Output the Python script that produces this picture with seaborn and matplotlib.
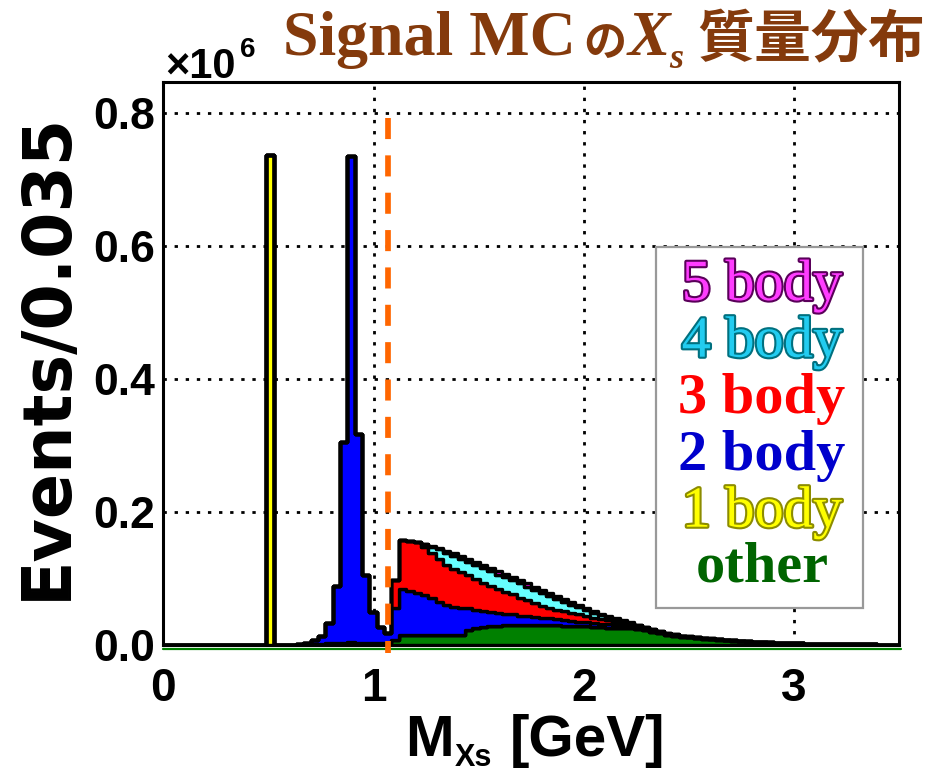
import numpy as np
import pandas as pd
import matplotlib
matplotlib.use("Agg")
import matplotlib.pyplot as plt
import matplotlib.patheffects as pe
import matplotlib.transforms as mtransforms
from matplotlib.patches import Rectangle
from matplotlib.ticker import MultipleLocator, FormatStrFormatter
import seaborn as sns

# 100 mass bins of 0.035 GeV from 0 to 3.5 GeV
n_bins = 100
mass_range = (0.0, 3.5)
bin_edges = np.linspace(mass_range[0], mass_range[1], n_bins + 1)
bin_centers = 0.5 * (bin_edges[:-1] + bin_edges[1:])

# Events per bin, in units of 10^6, for each decay multiplicity
other = [0.0] * 18 + [
    0.0005, 0.001, 0.0015, 0.002, 0.0025, 0.003, 0.0035, 0.0045, 0.0035, 0.003,
    0.003, 0.003, 0.003, 0.0075,
    0.015, 0.015, 0.015, 0.015, 0.015, 0.015, 0.015, 0.015, 0.015,
    0.022, 0.025, 0.027, 0.028, 0.029, 0.030, 0.030, 0.030, 0.030, 0.030,
    0.030, 0.030, 0.030, 0.029, 0.029, 0.028, 0.028, 0.027, 0.027, 0.026,
    0.026, 0.025, 0.025,
    0.024, 0.0225, 0.020, 0.0178, 0.0153, 0.0137, 0.012, 0.0113, 0.0105, 0.0097,
    0.0088, 0.0080, 0.0071, 0.0064, 0.0058, 0.0052, 0.0047, 0.0041, 0.0037, 0.0033,
    0.0029, 0.0026, 0.0023, 0.0020, 0.0017, 0.0016, 0.0014, 0.0012, 0.0011, 0.0010,
    0.0009, 0.0009, 0.0008, 0.0007, 0.0006, 0.0005,
]

one_body = [0.0] * 14 + [0.737] + [0.0] * 85

two_body = [0.0] * 17 + [
    0.0005, 0.001, 0.0025, 0.006, 0.0115, 0.0305, 0.086, 0.3025, 0.7315, 0.3135,
    0.102, 0.046, 0.0245, 0.0146, 0.0475,
    0.069, 0.066, 0.063, 0.060, 0.056, 0.049, 0.045, 0.042, 0.040,
    0.033, 0.028, 0.024, 0.022, 0.019, 0.017, 0.016, 0.014, 0.013, 0.012,
    0.011, 0.010, 0.009, 0.008, 0.007, 0.007, 0.006, 0.006, 0.005, 0.005,
    0.004, 0.004, 0.003,
    0.003, 0.0025, 0.002, 0.0016, 0.0013, 0.0011, 0.0009, 0.0008, 0.0007, 0.0006,
    0.0006, 0.0005, 0.0005, 0.0004, 0.0004, 0.0003, 0.0003, 0.0003, 0.0002, 0.0002,
    0.0002, 0.0001, 0.0001, 0.0001, 0.0001, 0.0001, 0.0001, 0.0001, 0.0001, 0.0001,
    0.0001,
] + [0.0] * 5

three_body = [0.0] * 31 + [
    0.043,
    0.074, 0.076, 0.077, 0.073, 0.068, 0.065, 0.061, 0.058, 0.055,
    0.050, 0.046, 0.043, 0.039, 0.036, 0.033, 0.030, 0.027, 0.024, 0.021,
    0.018, 0.016, 0.014, 0.014, 0.012, 0.011, 0.009, 0.008, 0.007, 0.0065,
    0.005, 0.004, 0.003,
    0.0015, 0.001, 0.001, 0.0008, 0.0007, 0.0006, 0.0005, 0.0004, 0.0004, 0.0003,
    0.0003, 0.0002, 0.0002, 0.0002, 0.0001, 0.0001, 0.0001, 0.0001, 0.0001, 0.0001,
    0.0001, 0.0001, 0.0001, 0.0001, 0.0001,
] + [0.0] * 11

four_body = [0.0] * 35 + [
    0.004, 0.009, 0.015, 0.018, 0.019, 0.0195,
    0.020, 0.021, 0.022, 0.022, 0.022, 0.022, 0.022, 0.022, 0.021, 0.020,
    0.019, 0.0175, 0.016, 0.0143, 0.0126, 0.011, 0.0094, 0.0078, 0.0062, 0.005,
    0.0038, 0.003, 0.0022,
    0.0010, 0.0008, 0.0007, 0.0006, 0.0005, 0.0004, 0.0004, 0.0003, 0.0003, 0.0003,
    0.0002, 0.0002, 0.0001, 0.0001, 0.0001, 0.0001, 0.0001, 0.0001, 0.0001,
] + [0.0] * 17

five_body = [0.0] * 36 + [
    0.001, 0.002, 0.003, 0.004, 0.0045,
    0.005, 0.005, 0.005, 0.005, 0.005, 0.005, 0.005, 0.005, 0.005, 0.005,
    0.005,
    0.0045, 0.004, 0.0037, 0.0034, 0.003, 0.0026, 0.0022, 0.0018, 0.0015, 0.0012,
    0.001, 0.0008,
    0.0005, 0.0004, 0.0003, 0.0002, 0.0002, 0.0002, 0.0002, 0.0002, 0.0001, 0.0001,
    0.0001, 0.0001, 0.0001, 0.0001, 0.0001, 0.0001,
] + [0.0] * 20

components = {
    "5 body": five_body,
    "4 body": four_body,
    "3 body": three_body,
    "2 body": two_body,
    "1 body": one_body,
    "other": other,
}
# top of the stack first, bottom ("other") last
stack_order = ["5 body", "4 body", "3 body", "2 body", "1 body", "other"]
fill_colors = {
    "5 body": "#FF00FF",
    "4 body": "#66FFFF",
    "3 body": "#FF0000",
    "2 body": "#0000FF",
    "1 body": "#FFFF00",
    "other": "#008000",
}

cut_mass = 1.07  # GeV, dashed marker line

sns.set_style("white")
SANS = ["Liberation Sans", "DejaVu Sans"]
SERIF = ["Liberation Serif", "DejaVu Serif"]
CJK = ["Noto Sans CJK JP", "DejaVu Sans"]
plt.rcParams["font.family"] = SANS
plt.rcParams["font.weight"] = "bold"
plt.rcParams.update({"text.color": "black", "xtick.color": "black",
                     "ytick.color": "black", "axes.labelcolor": "black"})

W, H = 945, 774
fig = plt.figure(figsize=(W / 100, H / 100), dpi=100)
fig.patch.set_facecolor("white")
ax_l, ax_r, ax_t, ax_b = 163.3, 899.3, 81.7, 645.0
ax = fig.add_axes([ax_l / W, 1 - ax_b / H, (ax_r - ax_l) / W, (ax_b - ax_t) / H])


def ftext(x, y, s, **kw):
    """Place text at figure pixel coordinates (origin top-left)."""
    return fig.text(x / W, 1 - y / H, s, **kw)


df = pd.concat(
    [pd.DataFrame({"mass": bin_centers, "events": np.asarray(v, float), "component": k})
     for k, v in components.items()],
    ignore_index=True,
)

sns.histplot(
    data=df, x="mass", weights="events", hue="component",
    hue_order=stack_order, palette=fill_colors,
    multiple="stack", element="step", bins=n_bins, binrange=mass_range,
    fill=True, alpha=1, edgecolor="black", linewidth=2.4,
    legend=False, ax=ax,
)

ax.set_xlim(0, 3.5)
ax.set_ylim(0, 0.8475)
ax.set_xlabel("")
ax.set_ylabel("")

ax.xaxis.set_major_locator(MultipleLocator(1))
ax.xaxis.set_minor_locator(MultipleLocator(0.2))
ax.yaxis.set_major_locator(MultipleLocator(0.2))
ax.yaxis.set_minor_locator(MultipleLocator(0.05))
ax.xaxis.set_major_formatter(FormatStrFormatter("%d"))
ax.yaxis.set_major_formatter(FormatStrFormatter("%.1f"))

ax.tick_params(axis="x", which="major", direction="in", length=13.7, width=2,
               labelsize=33, pad=16, top=False, color="black", labelcolor="black")
ax.tick_params(axis="x", which="minor", direction="in", length=6.5, width=2, top=False)
ax.tick_params(axis="y", which="major", direction="in", length=11.5, width=2,
               labelsize=32, pad=6, right=False, color="black", labelcolor="black")
ax.tick_params(axis="y", which="minor", direction="in", length=5.8, width=2, right=False)
for lab in ax.get_xticklabels() + ax.get_yticklabels():
    lab.set_fontweight("bold")

ax.grid(True, which="major", color="black", linestyle=(0, (1.2, 2.8)), linewidth=2.0)
ax.set_axisbelow(True)
for sp in ax.spines.values():
    sp.set_visible(True)
    sp.set_linewidth(2.2)
    sp.set_color("black")

# green zero line of the bottom component, just under the frame
green_base = mtransforms.offset_copy(ax.transData, fig=fig, x=0, y=-3.5, units="dots")
ax.plot([0, 3.51], [0, 0], color="#008000", lw=1.6, transform=green_base,
        clip_on=False, zorder=1.5)

# dashed marker at the cut value
ax.plot([cut_mass, cut_mass], [0.793, -0.012], color="#FF6600", lw=4.1,
        dashes=(3.7, 2.86), clip_on=False, zorder=6, solid_capstyle="butt",
        dash_capstyle="butt")

# legend box with coloured labels
box = Rectangle((656 / W, 1 - 608 / H), (863 - 656) / W, (608 - 247) / H,
                transform=fig.transFigure, facecolor="white", edgecolor="#999999",
                lw=1.6, zorder=7)
fig.add_artist(box)

legend_rows = [
    ("5 body", "#FF3CFF", "#5A005A", "normal", 300),
    ("4 body", "#22CCF0", "#00707F", "normal", 356.7),
    ("3 body", "#FF0000", None, "bold", 413),
    ("2 body", "#0000CC", None, "bold", 470),
    ("1 body", "#FFFF00", "#8C8C00", "normal", 526.7),
    ("other", "#006400", None, "bold", 581.7),
]
for label, color, stroke, weight, base in legend_rows:
    t = ftext(762, base, label, family=SERIF, fontsize=42, fontweight=weight,
              color=color, ha="center", va="baseline", zorder=8)
    if stroke is not None:
        t.set_path_effects([pe.Stroke(linewidth=3.0, foreground=stroke), pe.Normal()])

# axis titles
ftext(47, 356, "Events/0.035", family=["DejaVu Sans"], fontsize=48, fontweight="bold",
      rotation=90, ha="center", va="center", color="black")
ftext(405, 756, "M", family=SANS, fontsize=42, fontweight="bold", ha="left",
      va="baseline", color="black")
ftext(455, 766, "Xs", family=SANS, fontsize=22, fontweight="bold", ha="left",
      va="baseline", color="black")
ftext(510, 756, "[GeV]", family=SANS, fontsize=42, fontweight="bold", ha="left",
      va="baseline", color="black")

# exponent of the y scale
ftext(165, 78, "×10", family=SANS, fontsize=30, fontweight="bold", ha="left",
      va="baseline", color="black")
ftext(240, 57, "6", family=SANS, fontsize=20, fontweight="bold", ha="left",
      va="baseline", color="black")

# title
brown = "#843A0C"
ftext(283, 55, "Signal MC", family=SERIF, fontsize=46, fontweight="bold",
      ha="left", va="baseline", color=brown)
ftext(583, 56, "の", family=CJK, fontsize=31, fontweight="bold",
      ha="left", va="baseline", color=brown)
ftext(628, 55, "X", family=SERIF, fontsize=46, fontweight="bold", style="italic",
      ha="left", va="baseline", color=brown)
ftext(669, 68, "s", family=SERIF, fontsize=26, fontweight="bold", style="italic",
      ha="left", va="baseline", color=brown)
ftext(697, 57, "質量分布", family=CJK, fontsize=41, fontweight="bold",
      ha="left", va="baseline", color=brown)

fig.savefig("out.png", dpi=100, facecolor="white")
